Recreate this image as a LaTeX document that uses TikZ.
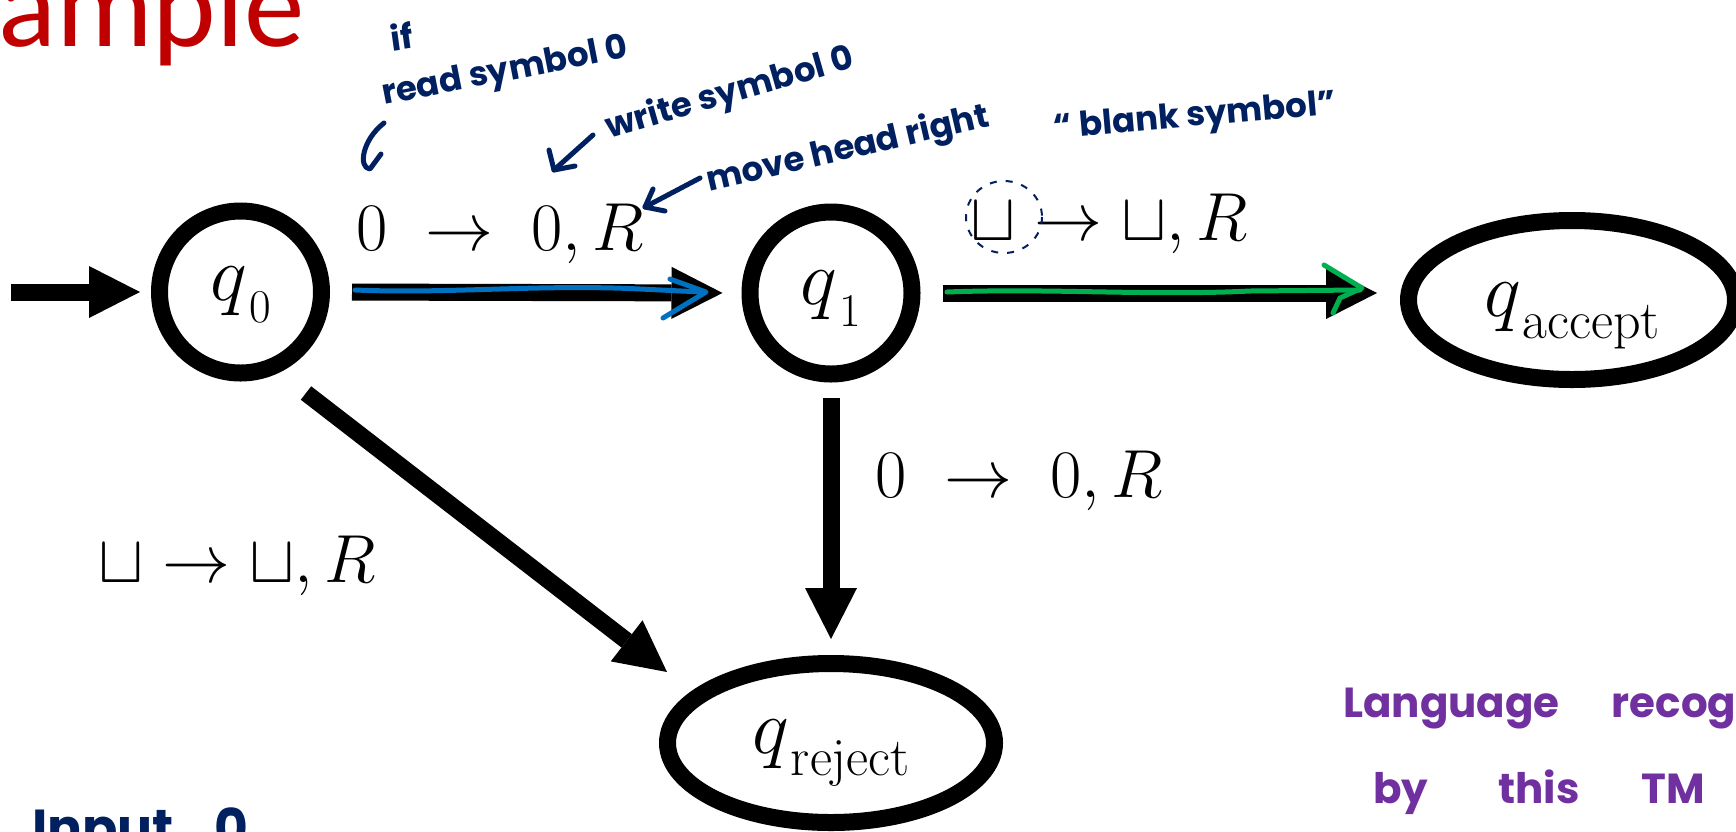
\RequirePackage{fix-cm}
\documentclass[tikz,border=0pt]{standalone}
\usepackage{fontspec}
\usepackage{amsmath}
\usetikzlibrary{arrows.meta,shapes.geometric}
\newfontfamily\handfont{Poppins}
\newfontfamily\titlefont{Carlito}
\definecolor{navy}{HTML}{002060}
\definecolor{penblue}{HTML}{0070C0}
\definecolor{pengreen}{HTML}{00B050}
\definecolor{penpurple}{HTML}{7030A0}
\definecolor{titlered}{HTML}{C00000}
% #1 = lowering of q baseline below node centre, #2 = subscript
\newcommand{\qlab}[2]{\raisebox{-#1pt}{\fontsize{78}{80}\selectfont$q$\kern2pt\raisebox{-22pt}{#2}}}
\newcommand{\subdig}[1]{{\fontsize{47}{50}\selectfont #1}}
\newcommand{\subtxt}[1]{{\fontsize{54}{56}\selectfont #1}}
\tikzset{
  circstate/.style={draw, ellipse, line width=17pt, inner sep=0pt, text height=0pt, text depth=0pt,
                    minimum width=162pt, minimum height=162pt},
  ovalstate/.style={draw, ellipse, line width=17pt, inner sep=0pt, text height=0pt, text depth=0pt,
                    minimum width=327pt, minimum height=159pt},
  trans/.style={line width=17pt, -{Triangle[length=51pt,width=52pt,line width=0pt]}},
  elabel/.style={anchor=base, inner sep=0pt, font=\fontsize{68}{76}\selectfont},
  hand/.style={inner sep=0pt, text=navy, font=\handfont\bfseries\fontsize{34}{36}\selectfont},
  purplenote/.style={anchor=base west, inner sep=0pt, text=penpurple, font=\handfont\bfseries\fontsize{42}{46}\selectfont},
  penline/.style={line width=5pt, line cap=round, line join=round},
}
\begin{document}
\begin{tikzpicture}[x=1pt, y=-1pt]
\useasboundingbox (0,0) rectangle (1736,831);
\clip (0,0) rectangle (1736,831);
\fill[white] (0,0) rectangle (1736,831);

% title fragment
\node[anchor=base west, inner sep=0pt, text=titlered, font=\titlefont\fontsize{121}{124}\selectfont] (title) at (-2,46) {ample};

% states
\node[circstate] (q0) at (240.5,292) {\qlab{8}{\subdig{0}}};
\node[circstate] (q1) at (831,293) {\qlab{11}{\subdig{1}}};
\node[ovalstate] (qacc) at (1572,300) {\qlab{16}{\subtxt{accept}}};
\node[ovalstate] (qrej) at (831,743) {\qlab{10}{\subtxt{reject}}};

% transitions
\coordinate (start) at (11,292);
\draw[trans, shorten >=11pt] (start) -- (q0.west);
\draw[trans, shorten <=22pt, shorten >=19pt] (q0.east) -- (q1.west);
\draw[trans, shorten <=22pt, shorten >=23pt] (q1.east) -- (q1.east -| qacc.west);
\draw[trans, shorten <=15pt, shorten >=16pt] (q1.south) -- (qrej.north);
\draw[trans] ([shift={(65.5,101)}]q0.center) -- ([shift={(-164,-71)}]qrej.center);

% edge labels
\node[elabel] (l01) at (500,250) {$0\;\to\;0, R$};
\node[elabel] (l1a) at (1109,240) {${\sqcup}\to{\sqcup}, R$};
\node[elabel] (l1r) at (1019,497) {$0\;\to\;0, R$};
\node[elabel] (l0r) at (237,582) {${\sqcup}\to{\sqcup}, R$};

% pen overlays on arrows
\draw[penblue, penline] (355,290) .. controls (450,294) and (540,284) .. (640,289) -- (702,292);
\draw[penblue, penline] (670,279) -- (706,292) -- (663,318);
\draw[pengreen, penline] (947,292) .. controls (1050,288) and (1150,296) .. (1250,291) -- (1360,290);
\draw[pengreen, penline] (1324,265) -- (1362,288) -- (1340,298) -- (1333,313);

% handwritten notes
\node[hand, rotate=8] (nif) at (402,36) {if};
\node[hand, rotate=11] (nread) at (505,73) {read symbol 0};
\node[hand, rotate=16] (nwrite) at (730,94) {write symbol 0};
\node[hand, rotate=13] (nmove) at (848,150) {move head right};
\node[hand, rotate=5] (nblank) at (1195,118) {“ blank symbol”};
\draw[navy, penline] (384,123) .. controls (362,140) and (358,168) .. (370,169) -- (381,154);
\draw[navy, penline] (593,135) -- (554,170);
\draw[navy, penline] (549,150) -- (554,170) -- (575,166);
\draw[navy, penline] (700,178) -- (645,207);
\draw[navy, penline] (653,189) -- (645,207) -- (665,211);
\draw[navy, line width=2pt, dash pattern=on 7pt off 9pt] (1004,217) ellipse [x radius=38, y radius=36];

% purple note
\node[purplenote] (nlang) at (1343,717) {\spaceskip=52pt Language recogni};
\node[purplenote] (nby) at (1373,803) {\spaceskip=70pt by this\hspace{-8pt} TM};

% input note
\node[anchor=base west, inner sep=0pt, text=navy, font=\handfont\bfseries\fontsize{52}{54}\selectfont] (ninput) at (32,846) {\spaceskip=40pt Input 0};
\end{tikzpicture}
\end{document}
